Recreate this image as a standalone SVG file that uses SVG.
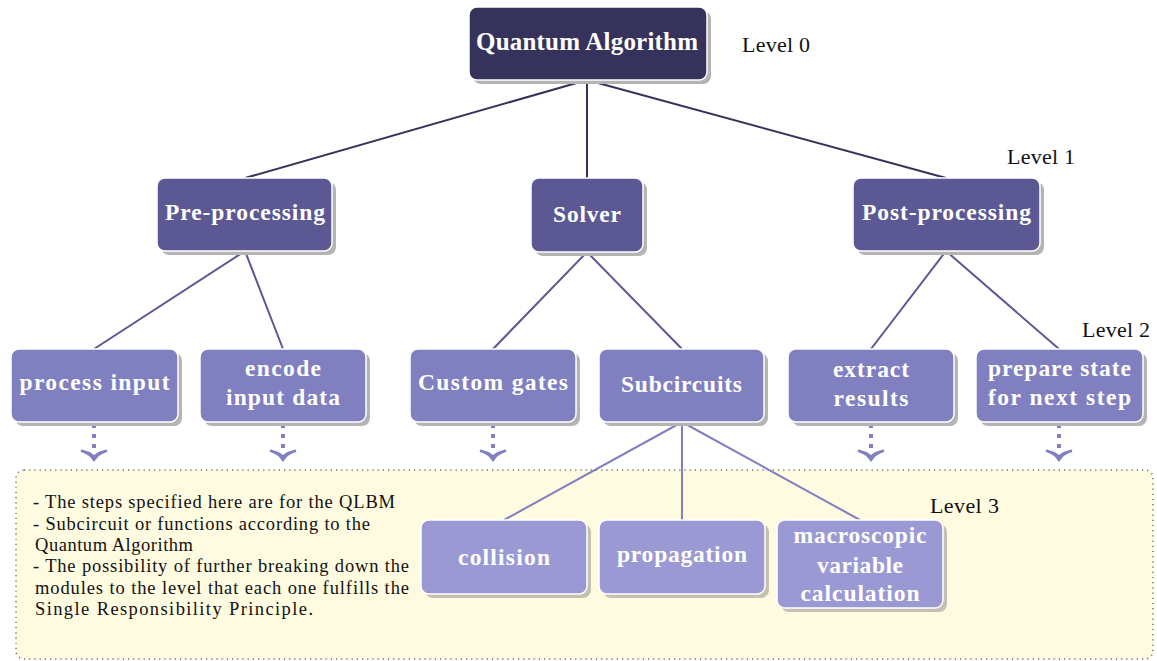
<svg xmlns="http://www.w3.org/2000/svg" width="1157" height="661" viewBox="0 0 1157 661">
<defs>
<style>
.sh{fill:#b4b4b4}
.sh3{fill:#c4c1b2}
.b{stroke:#ffffff;stroke-width:1.5}
.l0{fill:#35335b}
.l1{fill:#5b5894}
.l2{fill:#807fbf}
.l3{fill:#9b99d4}
.t{font-family:"Liberation Serif","Times New Roman",serif;font-weight:bold;fill:#ffffff;text-anchor:middle;font-size:23.5px}
.lv{font-family:"Liberation Serif","Times New Roman",serif;font-size:22px;fill:#111111}
.note{font-family:"Liberation Serif","Times New Roman",serif;font-size:18.5px;fill:#111111}
.c0{stroke:#35335a;stroke-width:2;fill:none}
.c1{stroke:#5b5894;stroke-width:2;fill:none}
.c2{stroke:#807fbf;stroke-width:2;fill:none}
.dash{stroke:#807fbf;stroke-width:4;stroke-dasharray:4 6;fill:none}
</style>
<g id="chev">
<path d="M0,0 Q-5,-8 -13,-10 Q-14,-12 -12,-12.5 Q-5,-11 0,-7 Q5,-11 12,-12.5 Q14,-12 13,-10 Q5,-8 0,0 Z" fill="#807fbf"/>
</g>
</defs>
<rect x="0" y="0" width="1157" height="661" fill="#ffffff"/>

<g id="level3-area">
<rect x="16" y="470" width="1137" height="189" rx="8" fill="#fffbe1" stroke="#6e6e6e" stroke-width="1.5" stroke-dasharray="1.2 4"/>
<text class="note" x="33" y="508" textLength="362">- The steps specified here are for the QLBM</text>
<text class="note" x="33" y="530" textLength="337">- Subcircuit or functions according to the</text>
<text class="note" x="35" y="551" textLength="158">Quantum Algorithm</text>
<text class="note" x="33" y="572" textLength="376">- The possibility of further breaking down the</text>
<text class="note" x="35" y="594" textLength="374">modules to the level that each one fulfills the</text>
<text class="note" x="35" y="615" textLength="278">Single Responsibility Principle.</text>
</g>

<g id="connectors">
<path class="c0" d="M587,80 L245,178 M587,80 L587,178 M587,80 L946,178"/>
<path class="c1" d="M245,251 L94,349 M245,251 L283,349 M587,252 L493,349 M587,252 L682,349 M946,251 L871,349 M946,251 L1059,349"/>
<path class="c2" d="M682,422 L504,520 M682,422 L682,520 M682,422 L860,520"/>
<path class="dash" d="M94,424 V450 M283,424 V450 M493,424 V450 M871,424 V450 M1059,424 V450"/>
<use href="#chev" x="94" y="462"/>
<use href="#chev" x="283" y="462"/>
<use href="#chev" x="493" y="462"/>
<use href="#chev" x="871" y="462"/>
<use href="#chev" x="1059" y="462"/>
</g>

<g id="quantum-algorithm">
<rect class="sh" x="473" y="11" width="238" height="73" rx="8"/>
<rect class="l0 b" x="469" y="7" width="238" height="73" rx="8"/>
<text class="t" x="587" y="50" style="font-size:25px" textLength="222">Quantum Algorithm</text>
</g>

<g id="pre-processing">
<rect class="sh" x="161" y="182" width="175" height="73" rx="8"/>
<rect class="l1 b" x="157" y="178" width="175" height="73" rx="8"/>
<text class="t" x="245" y="220" textLength="160">Pre-processing</text>
</g>
<g id="solver">
<rect class="sh" x="535" y="182" width="112" height="74" rx="8"/>
<rect class="l1 b" x="531" y="178" width="112" height="74" rx="8"/>
<text class="t" x="587" y="222" textLength="68">Solver</text>
</g>
<g id="post-processing">
<rect class="sh" x="857" y="182" width="187" height="73" rx="8"/>
<rect class="l1 b" x="853" y="178" width="187" height="73" rx="8"/>
<text class="t" x="946.5" y="220" textLength="169">Post-processing</text>
</g>

<g id="process-input">
<rect class="sh" x="15" y="353" width="167" height="73" rx="8"/>
<rect class="l2 b" x="11" y="349" width="167" height="73" rx="8"/>
<text class="t" x="94.5" y="390" textLength="150">process input</text>
</g>
<g id="encode-input-data">
<rect class="sh" x="204" y="353" width="166" height="73" rx="8"/>
<rect class="l2 b" x="200" y="349" width="166" height="73" rx="8"/>
<text class="t" x="283" y="376" textLength="76">encode</text>
<text class="t" x="283" y="405" textLength="114">input data</text>
</g>
<g id="custom-gates">
<rect class="sh" x="414" y="353" width="166" height="73" rx="8"/>
<rect class="l2 b" x="410" y="349" width="166" height="73" rx="8"/>
<text class="t" x="493" y="390" textLength="150">Custom gates</text>
</g>
<g id="subcircuits">
<rect class="sh" x="603" y="353" width="165" height="73" rx="8"/>
<rect class="l2 b" x="599" y="349" width="165" height="73" rx="8"/>
<text class="t" x="681.5" y="392" textLength="121">Subcircuits</text>
</g>
<g id="extract-results">
<rect class="sh" x="792" y="353" width="166" height="73" rx="8"/>
<rect class="l2 b" x="788" y="349" width="166" height="73" rx="8"/>
<text class="t" x="871" y="377" textLength="76">extract</text>
<text class="t" x="871" y="406" textLength="75">results</text>
</g>
<g id="prepare-state">
<rect class="sh" x="980" y="353" width="167" height="73" rx="8"/>
<rect class="l2 b" x="976" y="349" width="167" height="73" rx="8"/>
<text class="t" x="1059.5" y="376" textLength="143">prepare state</text>
<text class="t" x="1059.5" y="405" textLength="143">for next step</text>
</g>

<g id="collision">
<rect class="sh3" x="425" y="524" width="166" height="74" rx="8"/>
<rect class="l3 b" x="421" y="520" width="166" height="74" rx="8"/>
<text class="t" x="504" y="565" textLength="92">collision</text>
</g>
<g id="propagation">
<rect class="sh3" x="603" y="524" width="166" height="74" rx="8"/>
<rect class="l3 b" x="599" y="520" width="166" height="74" rx="8"/>
<text class="t" x="682" y="562" textLength="130">propagation</text>
</g>
<g id="macroscopic">
<rect class="sh3" x="781" y="524" width="166" height="88" rx="8"/>
<rect class="l3 b" x="777" y="520" width="166" height="88" rx="8"/>
<text class="t" x="860" y="543" textLength="133">macroscopic</text>
<text class="t" x="860" y="573" textLength="86">variable</text>
<text class="t" x="860" y="601" textLength="119">calculation</text>
</g>

<g id="level-labels">
<text class="lv" x="742" y="52" textLength="68">Level 0</text>
<text class="lv" x="1007" y="164" textLength="68">Level 1</text>
<text class="lv" x="1082" y="337" textLength="68">Level 2</text>
<text class="lv" x="930" y="513" textLength="69">Level 3</text>
</g>
</svg>
